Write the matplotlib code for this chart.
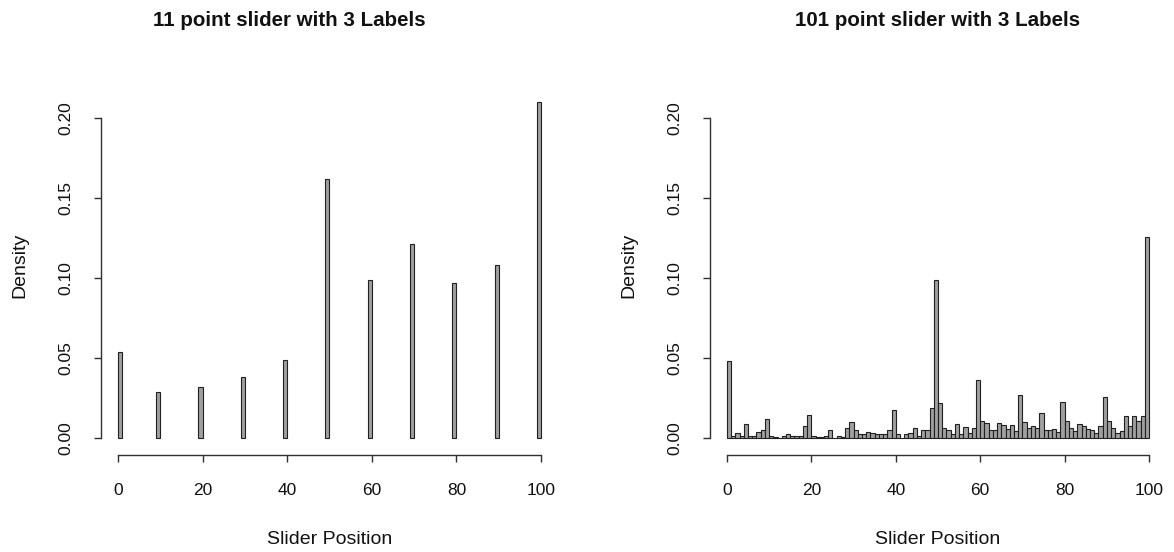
import numpy as np
import matplotlib
matplotlib.use("Agg")
import matplotlib.pyplot as plt

plt.rcParams["font.family"] = ["Liberation Sans", "DejaVu Sans"]

# Histogram breaks shared by both panels (unit-width bins, right-closed)
breaks = np.arange(0, 101)

# 11 point slider: responses only at multiples of 10
positions_11 = [0, 10, 20, 30, 40, 50, 60, 70, 80, 90, 100]
density_11 = [0.054, 0.029, 0.032, 0.038, 0.049, 0.162, 0.099, 0.121, 0.097, 0.108, 0.210]

# 101 point slider: density per unit bin (0-1, 1-2, ..., 99-100)
density_101 = [
    0.0480, 0.0013, 0.0033, 0.0017, 0.0090, 0.0013, 0.0017, 0.0037, 0.0054, 0.0123,
    0.0017, 0.0010, 0.0004, 0.0013, 0.0025, 0.0017, 0.0013, 0.0015, 0.0080, 0.0146,
    0.0017, 0.0010, 0.0010, 0.0017, 0.0050, 0.0004, 0.0017, 0.0010, 0.0066, 0.0100,
    0.0049, 0.0030, 0.0030, 0.0042, 0.0034, 0.0025, 0.0025, 0.0025, 0.0050, 0.0178,
    0.0026, 0.0004, 0.0027, 0.0035, 0.0065, 0.0017, 0.0049, 0.0049, 0.0190, 0.0990,
    0.0220, 0.0067, 0.0054, 0.0025, 0.0090, 0.0025, 0.0068, 0.0033, 0.0063, 0.0365,
    0.0110, 0.0096, 0.0049, 0.0050, 0.0096, 0.0083, 0.0058, 0.0083, 0.0048, 0.0270,
    0.0105, 0.0063, 0.0080, 0.0067, 0.0160, 0.0049, 0.0049, 0.0058, 0.0040, 0.0228,
    0.0110, 0.0063, 0.0045, 0.0088, 0.0075, 0.0060, 0.0054, 0.0032, 0.0075, 0.0257,
    0.0110, 0.0065, 0.0031, 0.0046, 0.0138, 0.0075, 0.0138, 0.0110, 0.0138, 0.1258,
]

titles = ["11 point slider with 3 Labels", "101 point slider with 3 Labels"]
x_label = "Slider Position"
y_label = "Density"
x_ticks = [0, 20, 40, 60, 80, 100]
y_ticks = [0.00, 0.05, 0.10, 0.15, 0.20]
y_tick_labels = ["0.00", "0.05", "0.10", "0.15", "0.20"]

W, H = 1174, 552
fig = plt.figure(figsize=(W / 100, H / 100), dpi=100)

# plot regions in pixels: (left, top, right, bottom)
regions = [(101, 21, 558, 455), (710, 21, 1166, 455)]
title_centers = [289, 938]

bar_face = "#a0a0a0"
bar_edge = "#202020"
axis_color = "#303030"
text_color = "#111111"


def setup_axes(px):
    l, t, r, b = px
    ax = fig.add_axes([l / W, (H - b) / H, (r - l) / W, (b - t) / H])
    ax.set_xlim(-4, 104)
    ax.set_ylim(-0.0104, 0.2604)
    for s in ("top", "right"):
        ax.spines[s].set_visible(False)
    ax.spines["left"].set_bounds(0, 0.20)
    ax.spines["bottom"].set_bounds(0, 100)
    for s in ("left", "bottom"):
        ax.spines[s].set_color(axis_color)
        ax.spines[s].set_linewidth(1.0)
    ax.set_xticks(x_ticks)
    ax.set_xticklabels([str(v) for v in x_ticks])
    ax.set_yticks(y_ticks)
    ax.set_yticklabels(y_tick_labels, rotation=90, va="center")
    ax.tick_params(axis="both", direction="out", length=5, width=1.0,
                   color=axis_color, labelsize=12.5, labelcolor=text_color)
    ax.tick_params(axis="x", pad=15)
    ax.tick_params(axis="y", pad=15)
    ax.patch.set_alpha(0)
    return ax


# left panel: bin index of each response under right-closed binning
ax1 = setup_axes(regions[0])
bin_idx = [max(int(np.ceil(p)) - 1, 0) for p in positions_11]
ax1.bar(breaks[bin_idx], density_11, width=1, align="edge",
        facecolor=bar_face, edgecolor=bar_edge, linewidth=0.8)

ax2 = setup_axes(regions[1])
ax2.bar(breaks[:-1], density_101, width=1, align="edge",
        facecolor=bar_face, edgecolor=bar_edge, linewidth=0.8)

for (l, t, r, b), tc, title in zip(regions, title_centers, titles):
    cx = (l + r) / 2
    fig.text(tc / W, 1 - 20 / H, title, ha="center", va="center",
             fontsize=14.8, fontweight="bold", color=text_color)
    fig.text(cx / W, 1 - 540 / H, x_label, ha="center", va="center",
             fontsize=14, color=text_color)
    fig.text((l - 81) / W, 1 - 265 / H, y_label, ha="center", va="center",
             rotation=90, fontsize=14, color=text_color)

fig.savefig("out.png", dpi=100, facecolor="white")
